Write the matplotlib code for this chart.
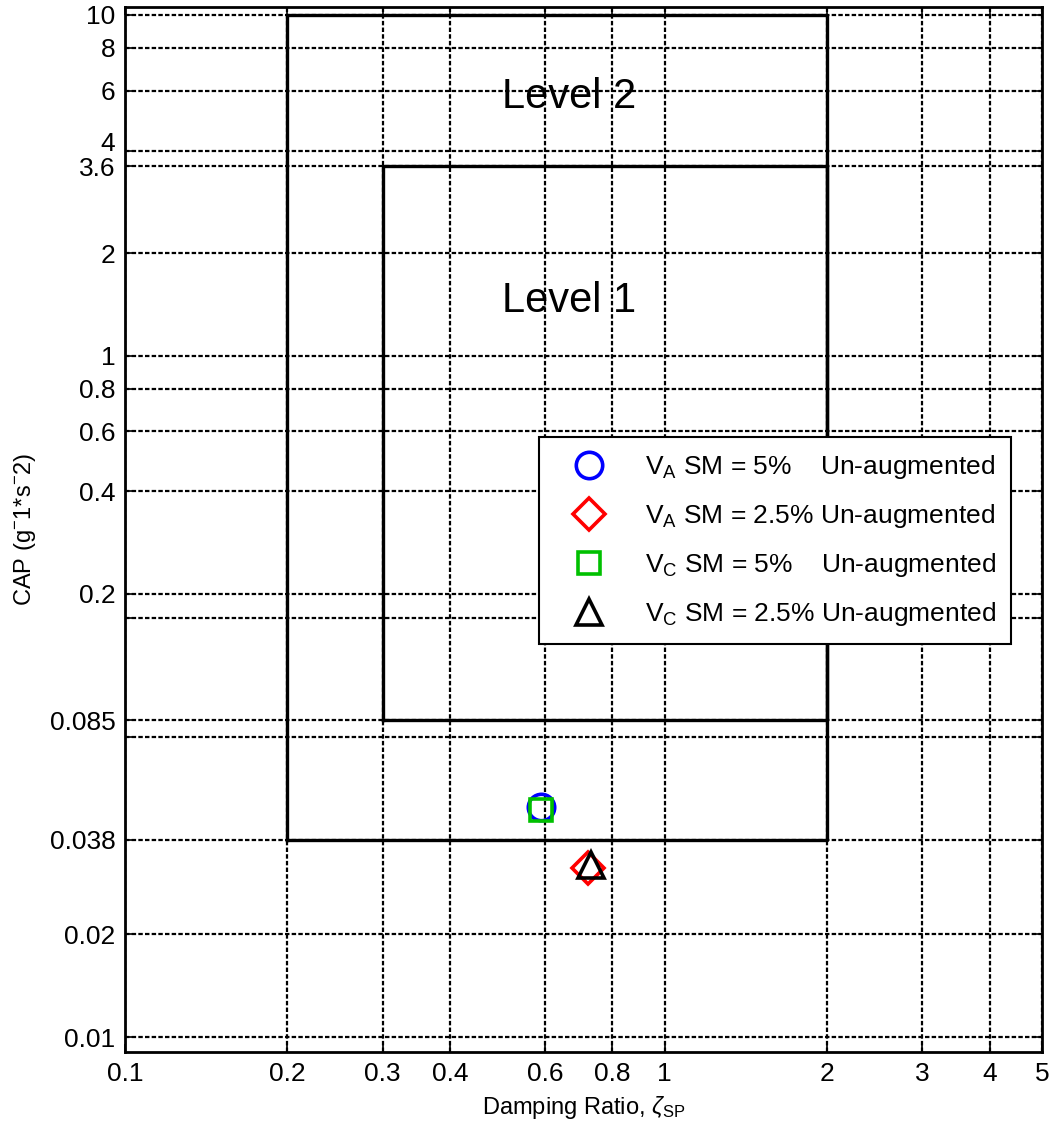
import matplotlib
matplotlib.use('Agg')
import matplotlib.pyplot as plt

plt.rcParams['font.family'] = ['Liberation Sans', 'DejaVu Sans']
plt.rcParams['mathtext.fontset'] = 'custom'
plt.rcParams['mathtext.rm'] = 'Liberation Sans'
plt.rcParams['mathtext.it'] = 'Liberation Sans:italic'

# tick positions
x_ticks = [0.1, 0.2, 0.3, 0.4, 0.6, 0.8, 1, 2, 3, 4, 5]
x_tick_labels = ['0.1', '0.2', '0.3', '0.4', '0.6', '0.8', '1', '2', '3', '4', '5']
y_ticks = [0.01, 0.02, 0.038, 0.076, 0.085, 0.17, 0.2, 0.4, 0.6, 0.8, 1, 2, 3.6, 4, 6, 8, 10]
y_tick_labels = ['0.01', '0.02', '0.038', '', '0.085', '', '0.2', '0.4', '0.6', '0.8',
                 '1', '2', '3.6', '', '6', '8', '10']

# level boundaries
level2_x = [0.2, 2.0]
level2_y = [0.038, 10.0]
level1_x = [0.3, 2.0]
level1_y = [0.085, 3.6]

# damping ratio / CAP points
va5_zeta, va5_cap = [0.59], [0.0474]
va25_zeta, va25_cap = [0.72], [0.0313]
vc5_zeta, vc5_cap = [0.59], [0.0464]
vc25_zeta, vc25_cap = [0.73], [0.0320]

fig = plt.figure(figsize=(10.52, 11.38), dpi=100)
ax = fig.add_axes([0.1188, 0.0756, 0.8717, 0.9182])
ax.set_xscale('log')
ax.set_yscale('log')
ax.set_xlim(0.1, 5)
ax.set_ylim(0.00904, 10.55)

ax.set_xticks(x_ticks)
ax.set_xticklabels(x_tick_labels)
ax.set_yticks(y_ticks)
ax.set_yticklabels(y_tick_labels)
ax.minorticks_off()
ax.tick_params(direction='in', top=True, right=True, length=6, width=1.2,
               labelsize=19, pad=7, colors='black')
# "4" crowds "3.6"; draw it by hand, lifted a little
ax.annotate('4', xy=(0, 4), xycoords=('axes fraction', 'data'), xytext=(-7, 5),
            textcoords='offset points', ha='right', va='center', fontsize=19)
ax.grid(True, color='black', linestyle=(0, (2, 1)), linewidth=1.6)
for s in ax.spines.values():
    s.set_linewidth(2)

def box(xs, ys):
    ax.plot([xs[0], xs[0], xs[1], xs[1], xs[0]],
            [ys[0], ys[1], ys[1], ys[0], ys[0]], color='black', lw=2.4, zorder=3)

box(level2_x, level2_y)
box(level1_x, level1_y)

ax.text(0.5, 5.33, 'Level 2', fontsize=30, ha='left', va='baseline', zorder=4)
ax.text(0.5, 1.34, 'Level 1', fontsize=30, ha='left', va='baseline', zorder=4)

ax.plot(va5_zeta, va5_cap, 'o', ms=19, mfc='none', mec='#0000ff', mew=2.6, ls='none',
        label=r'V$_\mathregular{A}$ SM = 5%    Un-augmented', zorder=5)
ax.plot(va25_zeta, va25_cap, 'D', ms=16, mfc='none', mec='#ff0000', mew=2.6, ls='none',
        label=r'V$_\mathregular{A}$ SM = 2.5% Un-augmented', zorder=5)
ax.plot(vc5_zeta, vc5_cap, 's', ms=16, mfc='none', mec='#00c000', mew=2.6, ls='none',
        label=r'V$_\mathregular{C}$ SM = 5%    Un-augmented', zorder=5)
ax.plot(vc25_zeta, vc25_cap, '^', ms=19, mfc='none', mec='black', mew=2.6, ls='none',
        label=r'V$_\mathregular{C}$ SM = 2.5% Un-augmented', zorder=6)

leg = ax.legend(loc='upper left', bbox_to_anchor=(0.4515, 0.5885), fontsize=19,
                frameon=True, fancybox=False, framealpha=1, edgecolor='black',
                borderpad=0.6, labelspacing=0.8, handlelength=2.6, handletextpad=0.8,
                borderaxespad=0)
leg.get_frame().set_linewidth(1.5)

ax.set_xlabel(r'Damping Ratio, $\zeta_\mathregular{SP}$', fontsize=17, labelpad=6)
ax.set_ylabel(r'CAP (g$^\mathregular{-}$1*s$^\mathregular{-}$2)', fontsize=17, labelpad=8)

fig.savefig('out.png', dpi=100)
